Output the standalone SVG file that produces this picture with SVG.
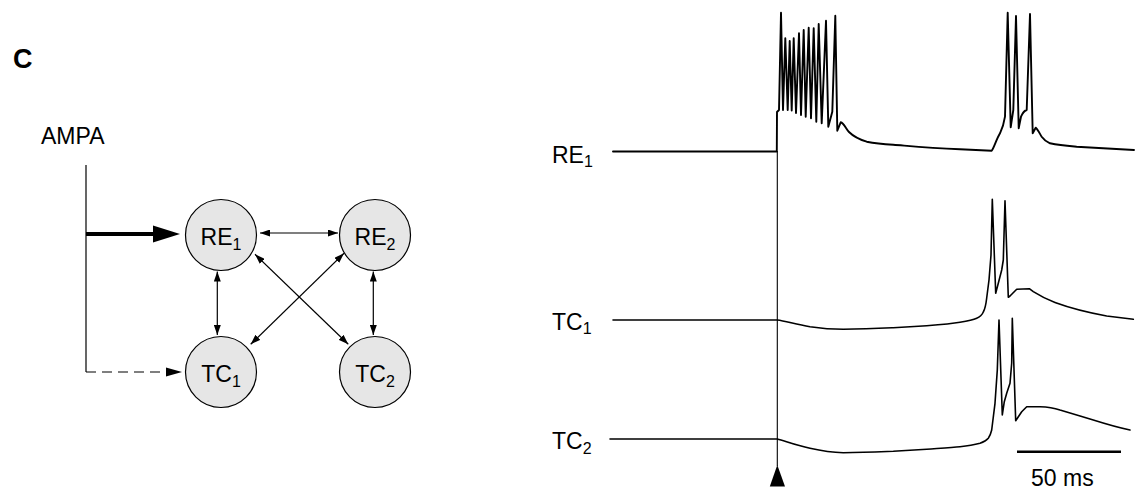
<svg xmlns="http://www.w3.org/2000/svg" width="1143" height="502" viewBox="0 0 1143 502">
  <style>
    .lbl { font-family: "Liberation Sans", Arial, Helvetica, sans-serif; font-size: 23px; fill: #000; }
    .sub { font-size: 16px; }
    .cell { fill: #e6e6e6; stroke: #000; stroke-width: 1.2; }
    .link { fill: none; stroke: #000; stroke-width: 1.2; marker-start: url(#ah); marker-end: url(#ah); }
    .trace { fill: none; stroke: #000; stroke-linejoin: round; stroke-linecap: round; }
  </style>
  <defs>
    <marker id="ah" viewBox="0 0 10 7" refX="10" refY="3.5" markerWidth="10" markerHeight="7" markerUnits="userSpaceOnUse" orient="auto-start-reverse">
      <path d="M0,0 L10,3.5 L0,7 z" fill="#000"/>
    </marker>
  </defs>
  <rect width="1143" height="502" fill="#fff"/>

  <!-- panel letter -->
  <text x="13" y="68" font-family="Liberation Sans, Arial, sans-serif" font-weight="bold" font-size="27">C</text>

  <!-- input label -->
  <text class="lbl" x="41" y="144">AMPA</text>

  <!-- network connectors -->
  <g id="connectors">
    <path d="M86,165 L86,372" stroke="#000" stroke-width="1.2" fill="none"/>
    <path d="M86,234 L156,234" stroke="#000" stroke-width="4" fill="none"/>
    <polygon points="153,225.5 180,234 153,242.5" fill="#000"/>
    <path d="M86,372 L166,372" stroke="#000" stroke-width="1.2" fill="none" stroke-dasharray="10,6"/>
    <polygon points="166,367.5 182,372 166,376.5" fill="#000"/>
    <path class="link" d="M260,233 L338,233"/>
    <path class="link" d="M217.3,271.5 L217.3,335"/>
    <path class="link" d="M373.3,271.5 L373.3,335"/>
    <path class="link" d="M255,254.3 L348.3,344.3"/>
    <path class="link" d="M344,253.3 L250.7,344.3"/>
  </g>

  <!-- cells -->
  <g id="RE1">
    <circle class="cell" cx="221" cy="235" r="35.5"/>
    <text class="lbl" x="221" y="245" text-anchor="middle">RE<tspan class="sub" dy="4.5">1</tspan></text>
  </g>
  <g id="RE2">
    <circle class="cell" cx="375" cy="235" r="35.5"/>
    <text class="lbl" x="375" y="245" text-anchor="middle">RE<tspan class="sub" dy="4.5">2</tspan></text>
  </g>
  <g id="TC1">
    <circle class="cell" cx="221" cy="372" r="35.5"/>
    <text class="lbl" x="221" y="382" text-anchor="middle">TC<tspan class="sub" dy="4.5">1</tspan></text>
  </g>
  <g id="TC2">
    <circle class="cell" cx="375" cy="372" r="35.5"/>
    <text class="lbl" x="375" y="382" text-anchor="middle">TC<tspan class="sub" dy="4.5">2</tspan></text>
  </g>

  <!-- trace labels -->
  <text class="lbl" x="552" y="162.5">RE<tspan class="sub" dy="4.6">1</tspan></text>
  <text class="lbl" x="552" y="329.5">TC<tspan class="sub" dy="4.6">1</tspan></text>
  <text class="lbl" x="552" y="449">TC<tspan class="sub" dy="4.6">2</tspan></text>

  <!-- stimulus marker -->
  <path d="M777.3,151 L777.3,466" stroke="#000" stroke-width="1.1" fill="none"/>
  <polygon points="777.3,465 769.8,486.5 785,486.5" fill="#000"/>

  <!-- RE1 membrane potential -->
  <path class="trace" stroke-width="1.9" d="M613,151.5 L776.8,151.5 L777,112 L779,110 L781,12.7 L783,110 L785.3,38.3 L787.7,110 L789.7,41 L791.7,110.5 L793.7,38.3 L796,113 L799,33.3 L801,115 L803.7,30 L805.7,116.7 L808.7,27.7 L811,118.3 L813.7,28.3 L816.3,121.7 L818.7,24 L821.7,123.3 L826,20.7 L828.3,126.7 L832.3,111.7 L835.3,15.7 L837.3,130.7 L840.7,122.3 C844,123 846,129 849,132 C853,136 858,139 866.7,141.7 C873,143 880,144 893.3,144.7 C910,146 926.7,147.7 960,149.3 L991.7,150.7 C994,148 996,140 1000,133.3 C1003,127 1004.5,120 1005,116.7 L1007.7,12.7 L1010.7,127.3 L1013.3,110 L1016,16 L1018.7,128.3 L1021,116.7 C1023,112 1025,110.5 1026.7,110 L1030,14 L1032.7,133.3 L1035.7,127.7 C1038,130 1040,134 1041.7,136.7 C1044,140 1047,142 1050,143.3 C1060,145.5 1068,146 1076.7,146.7 L1134,150"/>

  <!-- TC1 membrane potential -->
  <path class="trace" stroke-width="1.6" d="M613,320 L777.3,320 C785,321 795,324 810,326.7 C822,328.5 833,329.3 843.3,329.3 C865,329 880,328.3 893.3,327.7 L926.7,325.7 C940,324.7 952,323.7 960,322.3 C968,321 973,320 976.7,318.3 C980,317 982,315 983.3,312 C985,309 986,304 986.7,298 L989,280 L991,255 L992.3,199.3 L995.7,293.3 L998.3,283.3 L1001.7,270 L1003.3,260 L1005,200.7 L1008.3,297.3 L1010,296 L1016.7,289.3 L1029.3,288.7 L1033.3,291.7 C1040,296 1046,299 1055,302.5 C1070,308 1085,312 1106.7,316 L1133.3,319.3"/>

  <!-- TC2 membrane potential -->
  <path class="trace" stroke-width="1.6" d="M610,439 L777.3,439 C785,441 795,445 810,448.3 C822,451 833,452.5 843.3,452.7 C865,452.5 880,451.8 893.3,451.3 L926.7,449.3 C940,448.3 952,447.5 960,446.7 C968,446 974,445 980,443.3 C984,442 986.5,440.5 988.3,438.3 C990,436 991,433 991.7,430 L995,403.3 L997.3,370 L999,320 L1002.3,415 L1004.3,401.7 L1006.7,393.3 L1010,383.3 L1011.7,363 L1012.3,318.3 L1015.7,420.7 L1021.7,411.7 L1026.7,406.7 L1040,406.7 C1048,407 1054,408 1060,410 C1072,413.5 1082,416.5 1093.3,420 C1106,424 1118,427.5 1130,430"/>

  <!-- time scale -->
  <path d="M1017,451.7 L1121,451.7" stroke="#000" stroke-width="2.6" fill="none"/>
  <text class="lbl" x="1031" y="486">50 ms</text>
</svg>
